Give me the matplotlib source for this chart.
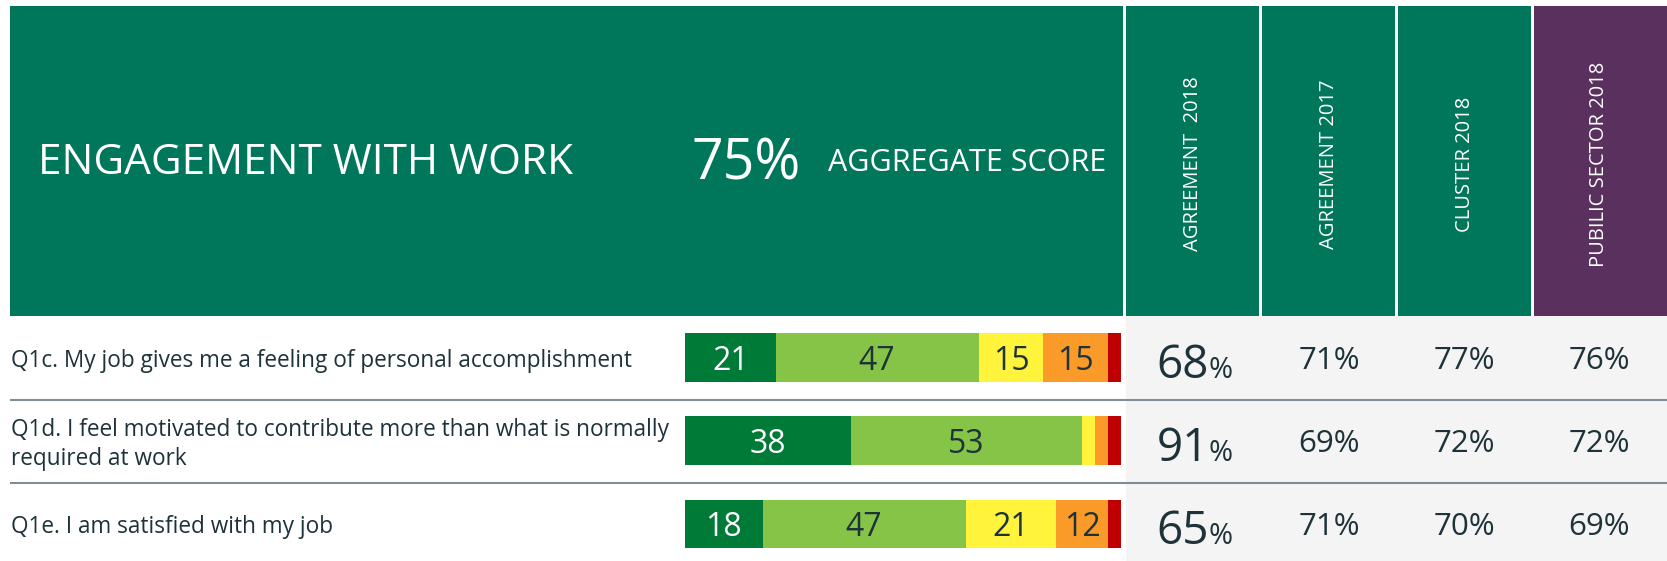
import numpy as np
import matplotlib.pyplot as plt
from matplotlib.patches import Rectangle
from matplotlib import transforms

plt.rcParams['font.family'] = ['Open Sans', 'DejaVu Sans']

# data
title = 'ENGAGEMENT WITH WORK'
aggregate_score = 75
questions = ['Q1c. My job gives me a feeling of personal accomplishment',
             'Q1d. I feel motivated to contribute more than what is normally\nrequired at work',
             'Q1e. I am satisfied with my job']
strongly_agree = [21, 38, 18]
agree = [47, 53, 47]
neutral = [15, 3, 21]
disagree = [15, 3, 12]
strongly_disagree = [3, 3, 3]

column_labels = ['AGREEMENT  2018', 'AGREEMENT 2017', 'CLUSTER 2018', 'PUBILIC SECTOR 2018']
agreement_2018 = [68, 91, 65]
agreement_2017 = [71, 69, 71]
cluster_2018 = [77, 72, 70]
public_sector_2018 = [76, 72, 69]

HEAD_GREEN = '#00765a'
PURPLE = '#5a315e'
seg_colors = ['#007a37', '#86c447', '#fff33b', '#f99a29', '#c00000']
seg_text = ['white', '#1e3339', '#1e3339', '#1e3339', '#1e3339']
TXT = '#1e3339'
SEP = '#7d8e98'

W, H = 1667, 561
fig = plt.figure(figsize=(W / 100, H / 100), dpi=100)

# background / layout axes in pixel units
bg = fig.add_axes([0, 0, 1, 1])
bg.set_xlim(0, W)
bg.set_ylim(H, 0)
bg.axis('off')

head_top, head_bot = 6, 316
col_edges = [1126, 1262, 1398, 1534, 1667]
bg.add_patch(Rectangle((10, head_top), 1113, head_bot - head_top, color=HEAD_GREEN, lw=0))
for i in range(4):
    c = PURPLE if i == 3 else HEAD_GREEN
    w = col_edges[i + 1] - col_edges[i] - (3 if i < 3 else 0)
    bg.add_patch(Rectangle((col_edges[i], head_top), w, head_bot - head_top, color=c, lw=0))
    bg.text((col_edges[i] + col_edges[i + 1] - 3) / 2, 164, column_labels[i], rotation=90,
            ha='center', va='center', color='white', fontsize=14.5)
bg.add_patch(Rectangle((col_edges[0], head_bot), W - col_edges[0], H - head_bot,
                       color='#f4f4f4', lw=0))
bg.hlines([399.5, 482.5], 10, W, color=SEP, lw=1.5)

bg.text(38, 163, title, color='white', fontsize=30.4, ha='left', va='center')
bg.text(692, 165, f'{aggregate_score}%', color='white', fontsize=40, ha='left', va='center')
bg.text(828, 163, 'AGGREGATE SCORE', color='white', fontsize=22, ha='left', va='center')

# stacked bars
ax = fig.add_axes([685 / W, 0, (1121 - 685) / W, (H - head_bot) / H])
ax.set_xlim(0, 100)
ax.set_ylim(2.45, -0.5)
ax.axis('off')

segments = np.array([strongly_agree, agree, neutral, disagree, strongly_disagree], dtype=float)
totals = segments.sum(axis=0)
rows = np.arange(len(questions))
left = np.zeros(len(questions))
for k in range(len(segments)):
    widths = segments[k] / totals * 100
    ax.barh(rows, widths, left=left, height=0.58, color=seg_colors[k], lw=0)
    for r in rows:
        if segments[k][r] >= 10:
            ax.text(left[r] + widths[r] / 2, r, f'{int(segments[k][r])}', ha='center',
                    va='center_baseline', color=seg_text[k], fontsize=23)
    left += widths

lab = transforms.offset_copy(ax.transData, fig=fig, x=0, y=-2.5, units='points')
for r, q in enumerate(questions):
    ax.text(-674 / 436 * 100, r, q, transform=lab, ha='left', va='center', color=TXT,
            fontsize=16.3, linespacing=1.28)

# comparison table
tx = fig.add_axes([col_edges[0] / W, 0, (W - col_edges[0]) / W, (H - head_bot) / H])
tx.set_xlim(-0.5, 3.5)
tx.set_ylim(2.45, -0.5)
tx.axis('off')

for r in rows:
    big = transforms.offset_copy(tx.transData, fig=fig, x=11, y=-15, units='points')
    t = tx.text(0, r, f'{agreement_2018[r]}', transform=big, ha='right',
                va='baseline', color=TXT, fontsize=33)
    tx.annotate('%', xy=(1, r), xycoords=(t, big), xytext=(0, 0), textcoords='offset points',
                ha='left', va='baseline', color=TXT, fontsize=21)
    for c, vals in enumerate([agreement_2017, cluster_2018, public_sector_2018], start=1):
        tx.text(c, r, f'{vals[r]}%', ha='center', va='center_baseline', color=TXT, fontsize=22.5)

fig.savefig('out.png', dpi=100)
